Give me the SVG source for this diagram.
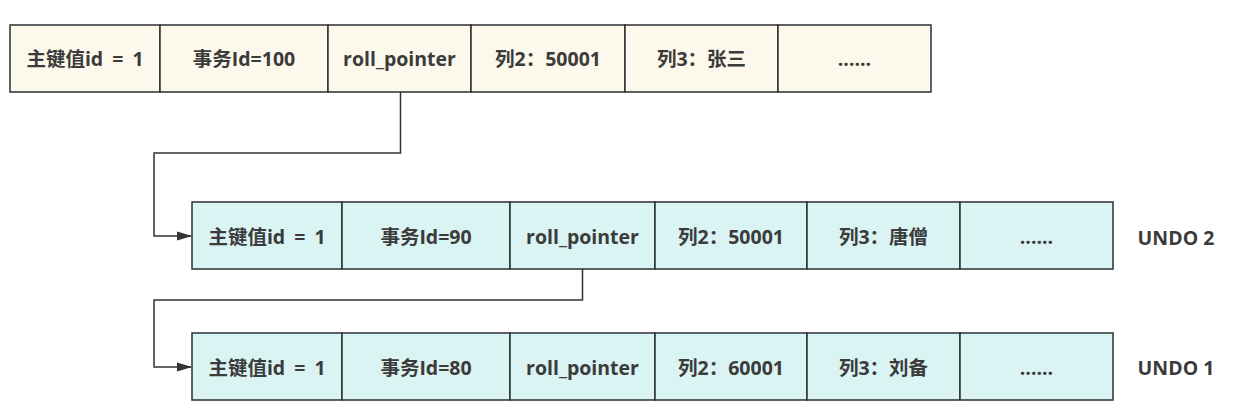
<svg xmlns="http://www.w3.org/2000/svg" width="1236" height="414" viewBox="0 0 1236 414">
<style>
.c1{fill:#fcf8eb;stroke:#2b3033;stroke-width:1.5}
.c2{fill:#daf3f3;stroke:#2b3033;stroke-width:1.5}
.t{font-family:"Open Sans","Noto Sans CJK SC",sans-serif;font-size:19.5px;font-weight:bold;fill:#3b3b3b;text-anchor:middle;dominant-baseline:central}
.w{word-spacing:4px}
.l{fill:none;stroke:#333;stroke-width:1.5}
</style>
<defs>
<marker id="a" markerWidth="15" markerHeight="10" refX="14" refY="5" orient="auto" markerUnits="userSpaceOnUse">
<path d="M0,0.5 L15,5 L0,9.5 z" fill="#333"/>
</marker>
</defs>
<g id="row-current">
<rect class="c1" x="10" y="25" width="150" height="67"/>
<rect class="c1" x="160" y="25" width="168" height="67"/>
<rect class="c1" x="328" y="25" width="143" height="67"/>
<rect class="c1" x="471" y="25" width="154" height="67"/>
<rect class="c1" x="625" y="25" width="153" height="67"/>
<rect class="c1" x="778" y="25" width="153" height="67"/>
<text class="t w" x="85" y="58">主键值id = 1</text>
<text class="t" x="244" y="58">事务Id=100</text>
<text class="t" x="399.5" y="58">roll_pointer</text>
<text class="t" x="548" y="58">列2：50001</text>
<text class="t" x="701.5" y="58">列3：张三</text>
<text class="t" x="854.5" y="58">......</text>
</g>
<g id="row-undo2">
<rect class="c2" x="192" y="202" width="150" height="67"/>
<rect class="c2" x="342" y="202" width="168" height="67"/>
<rect class="c2" x="510" y="202" width="145" height="67"/>
<rect class="c2" x="655" y="202" width="152" height="67"/>
<rect class="c2" x="807" y="202" width="153" height="67"/>
<rect class="c2" x="960" y="202" width="153" height="67"/>
<text class="t w" x="267" y="236">主键值id = 1</text>
<text class="t" x="426" y="236">事务Id=90</text>
<text class="t" x="582.5" y="236">roll_pointer</text>
<text class="t" x="731" y="236">列2：50001</text>
<text class="t" x="883.5" y="236">列3：唐僧</text>
<text class="t" x="1036.5" y="236">......</text>
<text class="t" x="1176" y="237">UNDO 2</text>
</g>
<g id="row-undo1">
<rect class="c2" x="192" y="333" width="150" height="67"/>
<rect class="c2" x="342" y="333" width="168" height="67"/>
<rect class="c2" x="510" y="333" width="145" height="67"/>
<rect class="c2" x="655" y="333" width="152" height="67"/>
<rect class="c2" x="807" y="333" width="153" height="67"/>
<rect class="c2" x="960" y="333" width="153" height="67"/>
<text class="t w" x="267" y="367">主键值id = 1</text>
<text class="t" x="426" y="367">事务Id=80</text>
<text class="t" x="582.5" y="367">roll_pointer</text>
<text class="t" x="731" y="367">列2：60001</text>
<text class="t" x="883.5" y="367">列3：刘备</text>
<text class="t" x="1036.5" y="367">......</text>
<text class="t" x="1176" y="367">UNDO 1</text>
</g>
<g id="connectors">
<path class="l" d="M400.5,92 V153 H154 V236 H191" marker-end="url(#a)"/>
<path class="l" d="M582.5,269 V300 H154 V367 H191" marker-end="url(#a)"/>
</g>
</svg>
